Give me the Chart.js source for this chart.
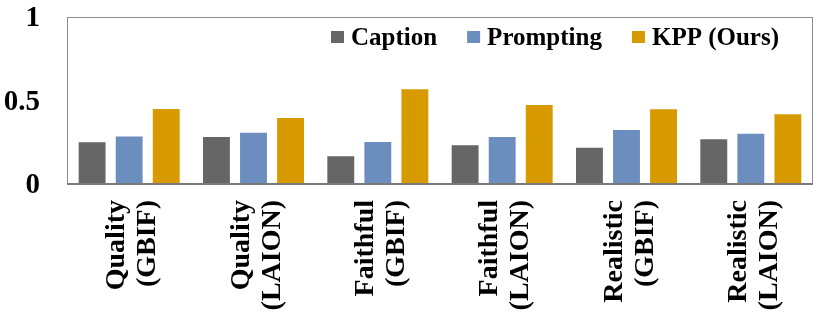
<!DOCTYPE html>
<html lang="en">
<head>
  <meta charset="UTF-8">
  <title>Caption vs Prompting vs KPP</title>
  <script src="https://cdn.jsdelivr.net/npm/chart.js"></script>
  <style>
    * {
      margin: 0;
      padding: 0;
      box-sizing: border-box;
    }

    body {
      background-color: #fff;
      width: 830px;
      height: 315px;
      overflow: hidden;
    }

    .chart-container {
      position: relative;
      width: 830px;
      height: 315px;
    }
  </style>
</head>
<body>
  <div class="chart-container">
    <canvas id="scoreChart"></canvas>
  </div>

  <script>
    const categories = [
      ['Quality', '(GBIF)'],
      ['Quality', '(LAION)'],
      ['Faithful', '(GBIF)'],
      ['Faithful', '(LAION)'],
      ['Realistic', '(GBIF)'],
      ['Realistic', '(LAION)']
    ];
    const seriesNames = ['Caption', 'Prompting', 'KPP (Ours)'];
    const captionValues = [0.256, 0.287, 0.172, 0.238, 0.223, 0.274];
    const promptingValues = [0.291, 0.313, 0.257, 0.287, 0.329, 0.307];
    const kppValues = [0.455, 0.401, 0.573, 0.479, 0.453, 0.423];
    const yTicks = [0, 0.5, 1];

    const serif = '"Liberation Serif", "Times New Roman", serif';

    // frame round the plot area, like the excel chart
    const plotFrame = {
      id: 'plotFrame',
      afterDraw(chart) {
        const { ctx, chartArea: a } = chart;
        ctx.save();
        ctx.strokeStyle = '#8c8c8c';
        ctx.lineWidth = 1;
        ctx.strokeRect(a.left + 0.5, a.top + 0.5, a.right - a.left - 1, a.bottom - a.top);
        ctx.strokeStyle = '#7a7a7a';
        ctx.lineWidth = 2;
        ctx.beginPath();
        ctx.moveTo(a.left, a.bottom);
        ctx.lineTo(a.right, a.bottom);
        ctx.stroke();
        ctx.restore();
      }
    };

    // legend sits inside the plot, top right, in one row
    const insideLegend = {
      id: 'insideLegend',
      afterDraw(chart) {
        const { ctx, chartArea: a } = chart;
        const sets = chart.data.datasets;
        ctx.save();
        ctx.font = 'bold 25px ' + serif;
        ctx.textBaseline = 'alphabetic';
        const box = 13, gap = 7, space = 30;
        const widths = sets.map(d => ctx.measureText(d.label).width);
        let total = widths.reduce((s, w) => s + w + box + gap, 0) + space * (sets.length - 1);
        let x = a.right - 34 - total;
        sets.forEach((d, i) => {
          ctx.fillStyle = d.backgroundColor;
          ctx.fillRect(x, a.top + 14, box, 12);
          ctx.fillStyle = '#000';
          ctx.fillText(d.label, x + box + gap, a.top + 28);
          x += box + gap + widths[i] + space;
        });
        ctx.restore();
      }
    };

    const makeSet = (label, data, color) => ({
      label: label,
      data: data,
      backgroundColor: color,
      borderColor: 'rgba(255, 255, 255, 0.55)',
      borderWidth: 1,
      borderSkipped: 'bottom',
      categoryPercentage: 0.894,
      barPercentage: 0.78
    });

    new Chart(document.getElementById('scoreChart').getContext('2d'), {
      type: 'bar',
      data: {
        labels: categories,
        datasets: [
          makeSet(seriesNames[0], captionValues, '#666666'),
          makeSet(seriesNames[1], promptingValues, '#6c8ebf'),
          makeSet(seriesNames[2], kppValues, '#d79b00')
        ]
      },
      options: {
        responsive: true,
        maintainAspectRatio: false,
        animation: false,
        layout: {
          padding: { top: 17, right: 17, left: 0, bottom: 0 }
        },
        plugins: {
          tooltip: { enabled: false },
          legend: { display: false }
        },
        scales: {
          x: {
            grid: { display: false, drawTicks: false },
            border: { display: false },
            ticks: {
              minRotation: 90,
              maxRotation: 90,
              autoSkip: false,
              padding: 16,
              labelOffset: -12,
              color: '#000',
              font: { family: serif, size: 28, weight: 'bold', lineHeight: 1.1 }
            },
            afterFit(scale) {
              scale.height = 131;
              scale.paddingLeft = 0;
              scale.paddingRight = 0;
            }
          },
          y: {
            min: 0,
            max: 1,
            grid: { display: false, drawTicks: false },
            border: { display: false },
            afterBuildTicks(scale) {
              scale.ticks = yTicks.map(v => ({ value: v }));
            },
            ticks: {
              padding: 27,
              labelOffset: 2,
              color: '#000',
              font: { family: serif, size: 29, weight: 'bold' },
              callback: v => String(v)
            },
            afterFit(scale) {
              scale.width = 67;
              scale.paddingTop = 0;
              scale.paddingBottom = 0;
            }
          }
        }
      },
      plugins: [plotFrame, insideLegend]
    });
  </script>
</body>
</html>
